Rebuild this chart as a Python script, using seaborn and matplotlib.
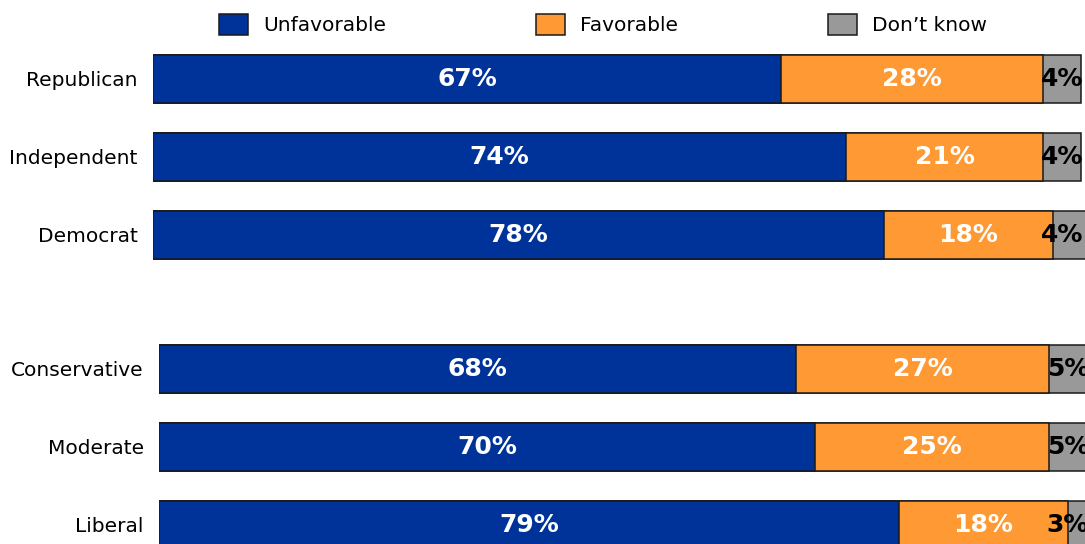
import numpy as np
import pandas as pd
import seaborn as sns
import matplotlib.pyplot as plt
from matplotlib.patches import Patch

sns.set_style("white")
plt.rcParams["font.family"] = ["DejaVu Sans"]

# Favorability by party and by ideology (percent)
party = ["Republican", "Independent", "Democrat"]
party_unfav = [67, 74, 78]
party_fav = [28, 21, 18]
party_dk = [4, 4, 4]

ideology = ["Conservative", "Moderate", "Liberal"]
ideo_unfav = [68, 70, 79]
ideo_fav = [27, 25, 18]
ideo_dk = [5, 5, 3]

series_names = ["Unfavorable", "Favorable", "Don\u2019t know"]
BLUE, ORANGE, GRAY = "#003399", "#FF9933", "#999999"
EDGE = "#1a1a1a"

W, H = 1085, 544
fig = plt.figure(figsize=(W / 100, H / 100), dpi=100)

PX_PER_PCT = 9.37
ROW = 78
BAR_W = 48 / ROW
LABEL_FS = 14.5
VALUE_FS = 18


def draw_group(ax, cats, unfav, fav, dk, x0):
    unfav = np.array(unfav)
    fav = np.array(fav)
    dk = np.array(dk)
    df = pd.DataFrame({
        "group": cats,
        "s1": unfav,
        "s2": unfav + fav,
        "s3": unfav + fav + dk,
    })
    # stacked segments: draw cumulative totals back to front
    for col, c in [("s3", GRAY), ("s2", ORANGE), ("s1", BLUE)]:
        sns.barplot(data=df, y="group", x=col, orient="h", color=c,
                    saturation=1, width=BAR_W, edgecolor=EDGE,
                    linewidth=1.1, ax=ax, errorbar=None)
    for i in range(len(cats)):
        ax.text(unfav[i] / 2, i, f"{unfav[i]}%", ha="center", va="center",
                color="white", fontweight="bold", fontsize=VALUE_FS)
        ax.text(unfav[i] + fav[i] / 2, i, f"{fav[i]}%", ha="center",
                va="center", color="white", fontweight="bold",
                fontsize=VALUE_FS)
        xc = min(unfav[i] + fav[i] + dk[i] / 2, 97)
        ax.text(xc, i, f"{dk[i]}%", ha="center", va="center",
                color="black", fontweight="bold", fontsize=VALUE_FS)
    ax.set_xlim(0, (W - x0) / PX_PER_PCT)
    ax.set_ylim(len(cats) - 0.5, -0.5)
    ax.set_xticks([])
    ax.set_xlabel("")
    ax.set_ylabel("")
    ax.tick_params(axis="y", length=0, pad=11, labelsize=LABEL_FS,
                   labelcolor="black")
    for s in ax.spines.values():
        s.set_visible(False)


# top block: rows centred at y = 79, 157, 235 px
x0_top = 153
ax1 = fig.add_axes([x0_top / W, (H - 274) / H, (W - x0_top) / W, 234 / H])
draw_group(ax1, party, party_unfav, party_fav, party_dk, x0_top)

# bottom block: rows centred at y = 369, 447, 525 px
x0_bot = 159
ax2 = fig.add_axes([x0_bot / W, (H - 564) / H, (W - x0_bot) / W, 234 / H])
draw_group(ax2, ideology, ideo_unfav, ideo_fav, ideo_dk, x0_bot)

handles = [Patch(facecolor=c, edgecolor=EDGE, linewidth=1.1)
           for c in (BLUE, ORANGE, GRAY)]
fig.legend(handles, series_names, loc="upper left",
           bbox_to_anchor=(219 / W, 1 - 14 / H), ncol=3, frameon=False,
           fontsize=LABEL_FS, labelcolor="black", borderpad=0,
           borderaxespad=0, handlelength=1.44, handleheight=1.2,
           handletextpad=0.75, columnspacing=7.45)

fig.savefig("out.png", dpi=100)
